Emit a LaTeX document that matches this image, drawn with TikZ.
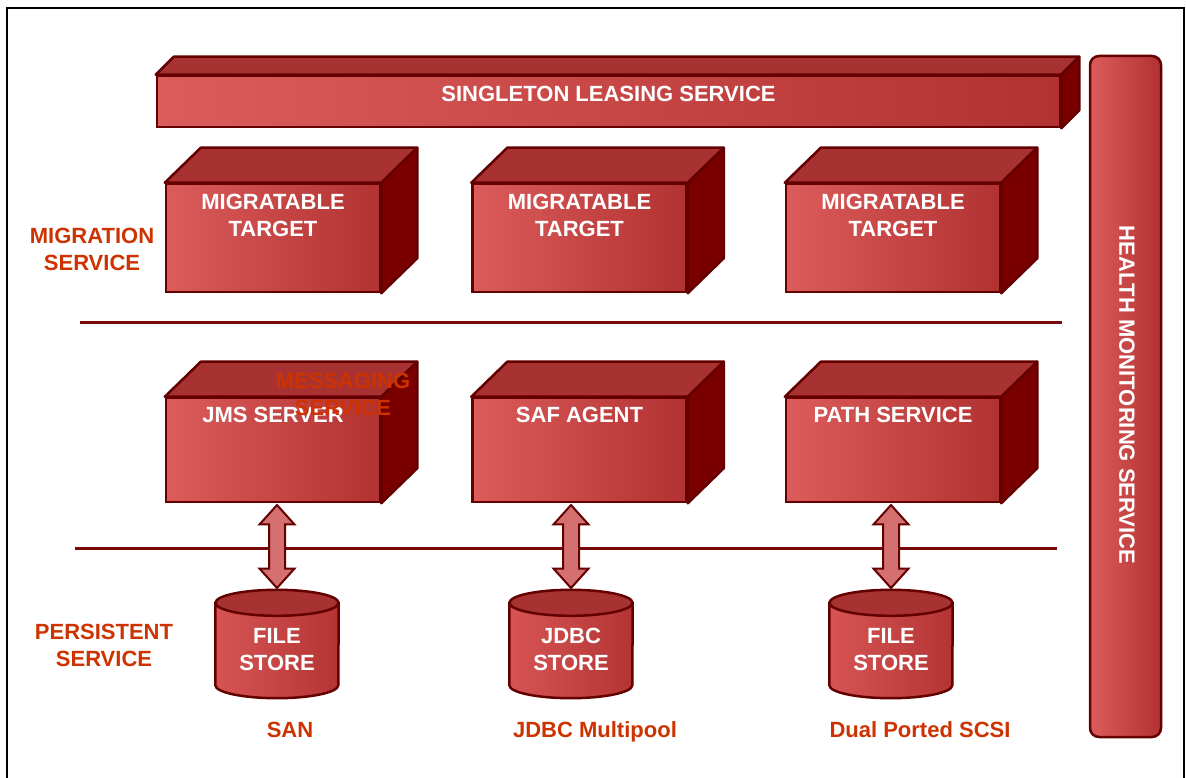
\documentclass[tikz,border=0pt]{standalone}
\usepackage{fontspec}
\setmainfont{Liberation Sans}
\usetikzlibrary{positioning, shapes.arrows, calc}

\definecolor{edgered}{RGB}{100,0,0}
\definecolor{topred}{RGB}{168,50,50}
\definecolor{sidered}{RGB}{122,0,0}
\definecolor{frontlight}{RGB}{220,92,92}
\definecolor{frontdark}{RGB}{178,50,50}
\definecolor{linered}{RGB}{122,8,8}
\definecolor{labelred}{RGB}{204,51,0}
\definecolor{storelight}{RGB}{214,84,84}
\definecolor{storedark}{RGB}{180,52,52}
\definecolor{arrowfill}{RGB}{212,112,112}

% top and right faces of a block, drawn from its front node
\newcommand{\blockfaces}[3]{%
  \filldraw[topred, draw=edgered, line width=2.5pt, line join=round]
    (#1.north west) -- ++(#2,#3) -- ($(#1.north east)+(#2,#3)$) -- (#1.north east) -- cycle;
  \filldraw[sidered, draw=edgered, line width=2.5pt, line join=round]
    (#1.north east) -- ++(#2,#3) -- ($(#1.south east)+(#2,#3)$) -- (#1.south east) -- cycle;
}
% drum of a store, fitted in its node
\newcommand{\storedrum}[1]{%
  \draw[edgered, line width=2.5pt, left color=storelight, right color=storedark]
    ($(#1.north west)+(0,-13)$) -- ($(#1.south west)+(0,13)$)
    arc[start angle=180, end angle=360, x radius=61.5, y radius=13]
    -- ($(#1.north east)+(0,-13)$) -- cycle;
  \filldraw[fill=topred, draw=edgered, line width=2.5pt] ($(#1.north)+(0,-13)$) ellipse (61.5 and 13);
}

\begin{document}
\begin{tikzpicture}[
    x=1pt, y=1pt,
    face/.style={draw=edgered, line width=2.5pt, left color=frontlight, right color=frontdark, inner sep=0pt},
    block/.style={face, minimum width=214pt, minimum height=108pt},
    caption/.style={inner sep=0pt, text=white, align=center, font=\bfseries\fontsize{22}{27}\selectfont},
    service/.style={caption, text=labelred},
    store/.style={minimum width=123pt, minimum height=108pt, inner sep=0pt},
    divider/.style={draw=linered, line width=3pt},
    fatarrow/.style={double arrow, draw=edgered, line width=2pt, fill=arrowfill, inner xsep=0pt, inner ysep=7pt,
        minimum height=83pt, minimum width=35pt, double arrow head extend=9.5pt, double arrow tip angle=84, sloped}
]
    \useasboundingbox (0,0) rectangle (1186,777);
    \draw[black, line width=2pt] (7,-10) -- (7,769) -- (1184,769) -- (1184,-10);

    % leasing bar across the top
    \node[face, minimum width=903pt, minimum height=51pt] (slsbar) at (608.5,675.5) {};
    \blockfaces{slsbar}{18pt}{18pt}
    \node[caption, below=11pt of slsbar.north] (slstext) {SINGLETON LEASING SERVICE};

    % migratable targets
    \node[block] (mt1) at (273,539) {};
    \node[block, right=90pt of mt1] (mt2) {};
    \node[block, right=97pt of mt2] (mt3) {};
    \blockfaces{mt1}{36pt}{35pt}
    \blockfaces{mt2}{36pt}{35pt}
    \blockfaces{mt3}{36pt}{35pt}
    \node[caption, below=11pt of mt1.north] (mt1text) {MIGRATABLE\\TARGET};
    \node[caption, below=11pt of mt2.north] (mt2text) {MIGRATABLE\\TARGET};
    \node[caption, below=11pt of mt3.north] (mt3text) {MIGRATABLE\\TARGET};

    \draw[divider] (80,454) -- (1062,454);

    % messaging row
    \node[block, minimum height=104pt] (jms) at (273,327) {};
    \node[block, minimum height=104pt, right=90pt of jms] (saf) {};
    \node[block, minimum height=104pt, right=97pt of saf] (path) {};
    \blockfaces{jms}{36pt}{35pt}
    \blockfaces{saf}{36pt}{35pt}
    \blockfaces{path}{36pt}{35pt}
    \node[caption, below=10pt of jms.north] (jmstext) {JMS SERVER};
    \node[caption, below=10pt of saf.north] (saftext) {SAF AGENT};
    \node[caption, below=10pt of path.north] (pathtext) {PATH SERVICE};

    \draw[divider] (75,228) -- (1057,228);

    % stores
    \node[store] (fs1) at (277,133) {};
    \node[store] (js) at (571,133) {};
    \node[store] (fs2) at (891,133) {};
    \storedrum{fs1}
    \storedrum{js}
    \storedrum{fs2}
    \node[caption, below=38pt of fs1.north] (fs1text) {FILE\\STORE};
    \node[caption, below=38pt of js.north] (jstext) {JDBC\\STORE};
    \node[caption, below=38pt of fs2.north] (fs2text) {FILE\\STORE};

    \path (fs1.north) -- (fs1.north |- jms.south) node[midway, fatarrow] (io1) {};
    \path (js.north) -- (js.north |- saf.south) node[midway, fatarrow] (io2) {};
    \path (fs2.north) -- (fs2.north |- path.south) node[midway, fatarrow] (io3) {};

    % health monitoring bar
    \node[face, rounded corners=9pt, minimum width=71pt, minimum height=681pt] (hms) at (1125.5,380.5) {};
    \node[caption, rotate=-90] (hmstext) at (1127,382) {HEALTH MONITORING SERVICE};

    % service labels
    \node[service] (migsvc) at (92,527.5) {MIGRATION\\SERVICE};
    \node[service] (msgsvc) at (343,382.5) {MESSAGING\\SERVICE};
    \node[service] (persvc) at (104,131.5) {PERSISTENT\\SERVICE};
    \node[service, anchor=base] (san) at (290,40) {SAN};
    \node[service, anchor=base] (pool) at (595,40) {JDBC Multipool};
    \node[service, anchor=base] (scsi) at (920,40) {Dual Ported SCSI};
\end{tikzpicture}
\end{document}
